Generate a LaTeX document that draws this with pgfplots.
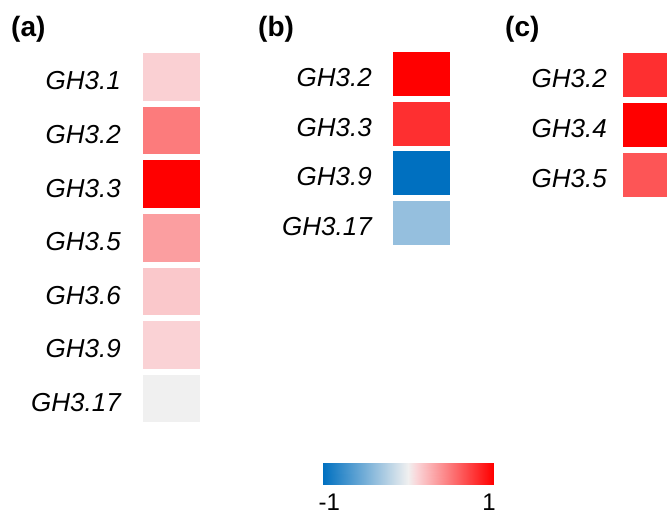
\documentclass[border=0pt]{standalone}
\usepackage{pgfplots}
\pgfplotsset{compat=1.18}
\usepackage{fontspec}
\setmainfont{Liberation Sans}
\pgfdeclareplotmark{cellA}{\pgfpathrectangle{\pgfpoint{-28.5pt}{-23.75pt}}{\pgfpoint{57pt}{47.5pt}}\pgfusepathqfill}
\pgfdeclareplotmark{cellB}{\pgfpathrectangle{\pgfpoint{-28.5pt}{-22pt}}{\pgfpoint{57pt}{44pt}}\pgfusepathqfill}
\pgfplotsset{
  colormap={rwb}{rgb255(0cm)=(0,112,192); rgb255(10cm)=(240,240,240); rgb255(11cm)=(250,212,215); rgb255(20cm)=(255,0,0)},
  panel/.style={scale only axis, width=57pt, xmin=-1, xmax=1, y dir=reverse, ymin=0.5,
    clip=false, axis line style={draw=none}, xtick=\empty, major tick length=0pt,
    tick style={draw=none}, point meta min=-1, point meta max=1, anchor=north west,
    yticklabel style={font=\fontsize{26}{30}\selectfont\itshape, anchor=east, inner sep=0pt, yshift=-4pt}},
}
\begin{document}
\begin{tikzpicture}
\path[use as bounding box] (0pt,0pt) rectangle (667pt,515pt);
% panel (a)
\begin{axis}[panel, at={(143pt,464.8pt)}, height=375.2pt, ymax=7.5,
  ytick={1,2,3,4,5,6,7}, yticklabels={GH3.1,GH3.2,GH3.3,GH3.5,GH3.6,GH3.9,GH3.17},
  yticklabel style={xshift=-22pt}]
\addplot[scatter, only marks, mark=cellA, point meta=explicit] coordinates {
 (0,1) [0.117] (0,2) [0.48] (0,3) [1.0] (0,4) [0.33] (0,5) [0.15] (0,6) [0.108] (0,7) [0.0]};
\end{axis}
% panel (b)
\begin{axis}[panel, at={(393pt,465.75pt)}, height=198pt, ymax=4.5,
  ytick={1,2,3,4}, yticklabels={GH3.2,GH3.3,GH3.9,GH3.17},
  yticklabel style={xshift=-21pt}]
\addplot[scatter, only marks, mark=cellB, point meta=explicit] coordinates {
 (0,1) [1.0] (0,2) [0.8] (0,3) [-1.0] (0,4) [-0.38]};
\end{axis}
% panel (c)
\begin{axis}[panel, at={(623pt,465pt)}, height=150pt, ymax=3.5,
  ytick={1,2,3}, yticklabels={GH3.2,GH3.4,GH3.5},
  yticklabel style={xshift=-16pt}]
\addplot[scatter, only marks, mark=cellB, point meta=explicit] coordinates {
 (0,1) [0.8] (0,2) [1.0] (0,3) [0.64]};
\end{axis}
% colour bar
\begin{axis}[at={(323pt,31pt)}, anchor=south west, scale only axis, width=170pt, height=21pt,
  hide axis, xmin=-1, xmax=1, ymin=0, ymax=1, point meta min=-1, point meta max=1]
\addplot[surf, shader=interp, mesh/rows=2, point meta=x] coordinates {
 (-1,0) (-0.5,0) (0,0) (0.1,0) (0.5,0) (1,0)
 (-1,1) (-0.5,1) (0,1) (0.1,1) (0.5,1) (1,1)};
\end{axis}
\node[anchor=base west, inner sep=0pt, font=\fontsize{24}{28}\selectfont] at (318.5pt,5pt) {-1};
\node[anchor=base east, inner sep=0pt, font=\fontsize{24}{28}\selectfont] at (496pt,5pt) {1};
\node[anchor=base west, inner sep=0pt, font=\fontsize{28}{32}\selectfont\bfseries] at (11pt,478.5pt) {(a)};
\node[anchor=base west, inner sep=0pt, font=\fontsize{28}{32}\selectfont\bfseries] at (258pt,478.5pt) {(b)};
\node[anchor=base west, inner sep=0pt, font=\fontsize{28}{32}\selectfont\bfseries] at (505pt,478.5pt) {(c)};
\end{tikzpicture}
\end{document}
